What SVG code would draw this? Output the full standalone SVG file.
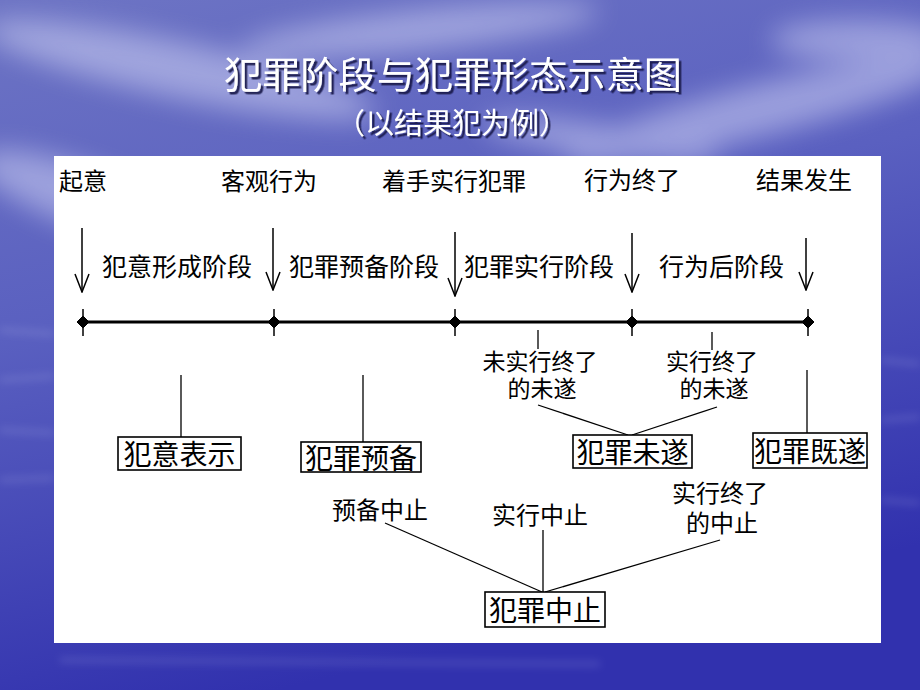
<svg xmlns="http://www.w3.org/2000/svg" width="920" height="690" viewBox="0 0 920 690">
<defs>
<linearGradient id="bg" x1="0" y1="0" x2="0.3" y2="1">
<stop offset="0" stop-color="#6d74c4"/>
<stop offset="0.45" stop-color="#5a60c0"/>
<stop offset="1" stop-color="#3131ae"/>
</linearGradient>
<filter id="blur" x="-50%" y="-50%" width="200%" height="200%"><feGaussianBlur stdDeviation="14"/></filter>
<filter id="blur2" x="-50%" y="-50%" width="200%" height="200%"><feGaussianBlur stdDeviation="4"/></filter>
<filter id="tshadow" x="-10%" y="-30%" width="120%" height="160%"><feDropShadow dx="2.5" dy="2.5" stdDeviation="0.6" flood-color="#15154a" flood-opacity="0.9"/></filter>
<marker id="ah" viewBox="0 0 20 16" refX="19" refY="8" markerWidth="20" markerHeight="16" markerUnits="userSpaceOnUse" orient="auto">
<path d="M1,1 L19,8 L1,15" fill="none" stroke="#000" stroke-width="1.5"/>
</marker>
<style>
.t{font-family:"Noto Sans CJK SC","Noto Sans CJK JP",sans-serif;fill:#000;font-size:24px}
.st{font-size:25px}
.sm{font-size:23px}
.bx{font-size:28px}
.box{fill:#fff;stroke:#000;stroke-width:1.6}
.ln{stroke:#000;stroke-width:1.3;fill:none}
.arr{stroke:#000;stroke-width:1.5;fill:none}
.title{font-family:"Noto Sans CJK SC","Noto Sans CJK JP",sans-serif;fill:#fff;filter:url(#tshadow)}
</style>
</defs>
<!-- background -->
<rect x="0" y="0" width="920" height="690" fill="url(#bg)"/>
<g opacity="0.45" filter="url(#blur)" fill="#e6e8ff">
<ellipse cx="180" cy="70" rx="200" ry="28" transform="rotate(12 180 70)"/>
<ellipse cx="420" cy="30" rx="180" ry="20" transform="rotate(-6 420 30)"/>
<ellipse cx="760" cy="110" rx="200" ry="26" transform="rotate(-14 760 110)"/>
<ellipse cx="90" cy="200" rx="120" ry="30" transform="rotate(20 90 200)"/>
<ellipse cx="860" cy="40" rx="90" ry="20"/>
<ellipse cx="600" cy="140" rx="120" ry="16" transform="rotate(8 600 140)"/>
</g>
<g opacity="0.25" filter="url(#blur2)" stroke="#e0e4ff" stroke-width="3">
<line x1="0" y1="330" x2="54" y2="334"/>
<line x1="0" y1="380" x2="54" y2="376"/>
<line x1="0" y1="430" x2="54" y2="433"/>
<line x1="0" y1="480" x2="54" y2="478"/>
<line x1="881" y1="360" x2="920" y2="364"/>
<line x1="881" y1="420" x2="920" y2="417"/>
<line x1="881" y1="500" x2="920" y2="503"/>
<line x1="60" y1="660" x2="600" y2="664"/>
</g>
<!-- title -->
<g id="title">
<text class="title" x="453" y="89" text-anchor="middle" font-size="37" textLength="458" lengthAdjust="spacingAndGlyphs">犯罪阶段与犯罪形态示意图</text>
<text class="title" x="452" y="134" text-anchor="middle" font-size="29" textLength="232" lengthAdjust="spacingAndGlyphs">（以结果犯为例）</text>
</g>
<!-- panel -->
<rect id="panel" x="54" y="156" width="827" height="487" fill="#fff"/>
<!-- top labels -->
<g id="events">
<text class="t" x="59" y="190">起意</text>
<text class="t" x="221" y="190">客观行为</text>
<text class="t" x="382" y="190">着手实行犯罪</text>
<text class="t" x="584" y="189">行为终了</text>
<text class="t" x="756" y="189">结果发生</text>
</g>
<g id="stages">
<text class="t st" x="102" y="276">犯意形成阶段</text>
<text class="t st" x="289" y="276">犯罪预备阶段</text>
<text class="t st" x="464" y="276">犯罪实行阶段</text>
<text class="t st" x="659" y="276">行为后阶段</text>
</g>
<!-- connectors -->
<g id="connectors">
<line class="arr" x1="82" y1="228" x2="82" y2="292" marker-end="url(#ah)"/>
<line class="arr" x1="273" y1="228" x2="273" y2="290" marker-end="url(#ah)"/>
<line class="arr" x1="455" y1="232" x2="455" y2="296" marker-end="url(#ah)"/>
<line class="arr" x1="632" y1="233" x2="632" y2="292" marker-end="url(#ah)"/>
<line class="arr" x1="806" y1="238" x2="806" y2="290" marker-end="url(#ah)"/>
<line x1="83" y1="322" x2="808" y2="322" stroke="#000" stroke-width="3"/>
<line class="ln" x1="181" y1="375" x2="181" y2="437"/>
<line class="ln" x1="363" y1="375" x2="363" y2="442"/>
<line class="ln" x1="538" y1="330" x2="538" y2="349"/>
<line class="ln" x1="712" y1="332" x2="712" y2="350"/>
<line class="ln" x1="538" y1="405" x2="628" y2="435"/>
<line class="ln" x1="717" y1="407" x2="632" y2="435"/>
<line class="ln" x1="807" y1="370" x2="807" y2="433"/>
<line class="ln" x1="385" y1="523" x2="542" y2="592"/>
<line class="ln" x1="543" y1="530" x2="543" y2="592"/>
<line class="ln" x1="720" y1="540" x2="545" y2="592"/>
</g>
<!-- timeline nodes -->
<g id="nodes-timeline" fill="#000" stroke="#000">
<g id="n1"><path d="M83,316 L89,322 L83,328 L77,322Z"/><line x1="83" y1="309" x2="83" y2="336" stroke-width="1.5"/></g>
<g id="n2"><path d="M274,316 L280,322 L274,328 L268,322Z"/><line x1="274" y1="309" x2="274" y2="336" stroke-width="1.5"/></g>
<g id="n3"><path d="M455,316 L461,322 L455,328 L449,322Z"/><line x1="455" y1="309" x2="455" y2="336" stroke-width="1.5"/></g>
<g id="n4"><path d="M632,316 L638,322 L632,328 L626,322Z"/><line x1="632" y1="309" x2="632" y2="336" stroke-width="1.5"/></g>
<g id="n5"><path d="M808,316 L814,322 L808,328 L802,322Z"/><line x1="808" y1="309" x2="808" y2="336" stroke-width="1.5"/></g>
</g>
<!-- sub labels -->
<g id="weishi1"><text class="t sm" text-anchor="middle"><tspan x="540" y="370">未实行终了</tspan><tspan x="542" y="397">的未遂</tspan></text></g>
<g id="weishi2"><text class="t sm" text-anchor="middle"><tspan x="712" y="370">实行终了</tspan><tspan x="714" y="397">的未遂</tspan></text></g>
<g id="zz1"><text class="t" x="380" y="519" text-anchor="middle">预备中止</text></g>
<g id="zz2"><text class="t" x="540" y="524" text-anchor="middle">实行中止</text></g>
<g id="zz3"><text class="t" text-anchor="middle"><tspan x="720" y="502">实行终了</tspan><tspan x="722" y="532">的中止</tspan></text></g>
<!-- boxes -->
<g id="b-yisi"><rect class="box" x="118" y="437" width="123" height="33"/><text class="t bx" x="179.5" y="465" text-anchor="middle">犯意表示</text></g>
<g id="b-yubei"><rect class="box" x="301" y="442" width="120" height="30"/><text class="t bx" x="361" y="469" text-anchor="middle">犯罪预备</text></g>
<g id="b-weisui"><rect class="box" x="573" y="435" width="119" height="33"/><text class="t bx" x="632.5" y="463" text-anchor="middle">犯罪未遂</text></g>
<g id="b-jisui"><rect class="box" x="753" y="433" width="114" height="35"/><text class="t bx" x="810" y="462" text-anchor="middle">犯罪既遂</text></g>
<g id="b-zhongzhi"><rect class="box" x="485" y="592" width="120" height="35"/><text class="t bx" x="545" y="621" text-anchor="middle">犯罪中止</text></g>
</svg>
